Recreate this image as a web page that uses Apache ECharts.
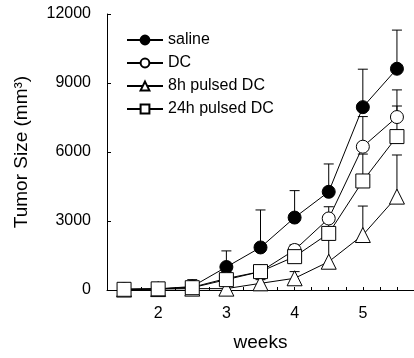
<!DOCTYPE html>
<html>
<head>
<meta charset="utf-8">
<script src="https://cdn.jsdelivr.net/npm/echarts@6/dist/echarts.min.js"></script>
<style>html,body{margin:0;padding:0;background:#fff}#c{width:414px;height:358px}</style>
</head>
<body>
<div id="c"></div>
<script>
const weeks = [1.5, 2, 2.5, 3, 3.5, 4, 4.5, 5, 5.5];
const saline = [30, 50, 150, 1000, 1850, 3150, 4270, 7950, 9620];
const salineErr = [250, 300, 450, 1700, 3480, 4320, 5480, 9600, 11300];
const dc = [30, 50, 120, 500, 800, 1740, 3110, 6230, 7520];
const dcErr = [150, 200, 250, 800, 1000, 1950, 3620, 7540, 8700];
const h8 = [20, 40, 60, 60, 290, 510, 1230, 2390, 4060];
const h8Err = [100, 100, 100, 150, 450, 800, 2400, 3650, 5870];
const h24 = [30, 50, 100, 450, 800, 1450, 2460, 4740, 6670];
const h24Err = [150, 200, 250, 750, 1000, 1950, 3000, 5910, 8000];
const yTicks = [0, 3000, 6000, 9000, 12000];
const names = ['saline', 'DC', '8h pulsed DC', '24h pulsed DC'];

const chart = echarts.init(document.getElementById('c'), null, {renderer: 'canvas'});
const FONT = 'Liberation Sans, Arial, sans-serif';

function pairs(vals) { return weeks.map((w, i) => [w, vals[i]]); }
function errData(vals, tops) { return weeks.map((w, i) => [w, vals[i], tops[i]]); }

function errSeries(vals, tops) {
  return {
    type: 'custom',
    z: 1,
    silent: true,
    data: errData(vals, tops),
    renderItem: function (params, api) {
      const p0 = api.coord([api.value(0), api.value(1)]);
      const p1 = api.coord([api.value(0), api.value(2)]);
      const hw = 5;
      return {
        type: 'group',
        children: [
          {type: 'line', shape: {x1: p0[0], y1: p0[1], x2: p1[0], y2: p1[1]}, style: {stroke: '#000', lineWidth: 1}},
          {type: 'line', shape: {x1: p1[0] - hw, y1: p1[1], x2: p1[0] + hw, y2: p1[1]}, style: {stroke: '#000', lineWidth: 1}}
        ]
      };
    }
  };
}

function lineSeries(name, vals, symbol, size, fill) {
  return {
    name: name,
    type: 'line',
    z: 3,
    data: pairs(vals),
    symbol: symbol,
    symbolSize: size,
    showAllSymbol: true,
    lineStyle: {color: '#000', width: 1},
    itemStyle: {color: fill, borderColor: '#000', borderWidth: 1},
    emphasis: {disabled: true}
  };
}

chart.setOption({
  animation: false,
  backgroundColor: '#fff',
  grid: {left: 107, top: 14, width: 308, height: 276, containLabel: false},
  legend: {
    orient: 'vertical',
    left: 121,
    top: 27,
    itemWidth: 36,
    itemHeight: 11,
    itemGap: 7,
    data: names,
    textStyle: {fontFamily: FONT, fontSize: 16, color: '#000'}
  },
  xAxis: {
    type: 'value',
    min: 1.25,
    max: 5.75,
    interval: 0.25,
    name: 'weeks',
    nameLocation: 'middle',
    nameGap: 43,
    nameTextStyle: {fontFamily: FONT, fontSize: 19, color: '#000'},
    axisLine: {onZero: false, lineStyle: {color: '#000', width: 1}},
    axisTick: {inside: true, length: 3, lineStyle: {color: '#000'}},
    splitLine: {show: false},
    axisLabel: {
      margin: 16,
      fontFamily: FONT, fontSize: 16, color: '#000',
      showMinLabel: false, showMaxLabel: false,
      formatter: v => (Math.abs(v - Math.round(v)) < 1e-6 ? String(Math.round(v)) : '')
    }
  },
  yAxis: {
    type: 'value',
    min: yTicks[0],
    max: yTicks[yTicks.length - 1],
    interval: yTicks[1] - yTicks[0],
    name: 'Tumor Size (mm³)',
    nameLocation: 'middle',
    nameGap: 76,
    nameTextStyle: {fontFamily: FONT, fontSize: 19, color: '#000'},
    axisLine: {show: true, lineStyle: {color: '#000', width: 1}},
    axisTick: {show: true, inside: true, length: 4, lineStyle: {color: '#000'}},
    splitLine: {show: false},
    axisLabel: {margin: 16, fontFamily: FONT, fontSize: 16, color: '#000', formatter: v => String(v)}
  },
  series: [
    errSeries(saline, salineErr),
    errSeries(dc, dcErr),
    errSeries(h8, h8Err),
    errSeries(h24, h24Err),
    lineSeries(names[0], saline, 'circle', 13, '#000'),
    lineSeries(names[1], dc, 'circle', 13, '#fff'),
    lineSeries(names[2], h8, 'triangle', 15, '#fff'),
    lineSeries(names[3], h24, 'rect', 14, '#fff')
  ]
});
</script>
</body>
</html>
